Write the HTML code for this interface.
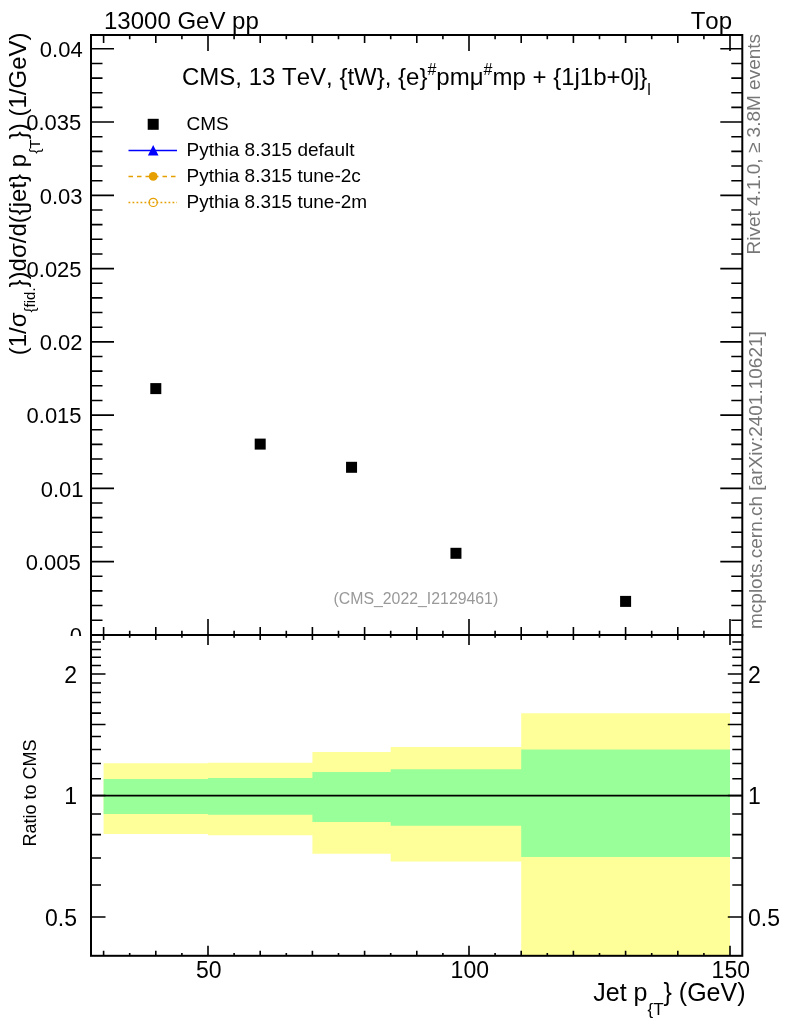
<!DOCTYPE html>
<html><head><meta charset="utf-8"><style>
html,body{margin:0;padding:0;background:#fff;}
svg{display:block;font-family:"Liberation Sans",sans-serif;font-kerning:none;font-feature-settings:"kern" 0,"liga" 0;will-change:transform;}
</style></head><body>
<svg width="786" height="1024" viewBox="0 0 786 1024">
<rect width="786" height="1024" fill="#fff"/>
<rect x="150.30" y="383.10" width="11" height="11" fill="#000"/>
<rect x="254.70" y="438.60" width="11" height="11" fill="#000"/>
<rect x="346.05" y="461.80" width="11" height="11" fill="#000"/>
<rect x="450.45" y="547.80" width="11" height="11" fill="#000"/>
<rect x="620.10" y="595.90" width="11" height="11" fill="#000"/>
<path d="M91.0,634.86h23M742.3,634.86h-22M91.0,620.21h11.5M742.3,620.21h-11M91.0,605.56h11.5M742.3,605.56h-11M91.0,590.91h11.5M742.3,590.91h-11M91.0,576.26h11.5M742.3,576.26h-11M91.0,561.61h23M742.3,561.61h-22M91.0,546.95h11.5M742.3,546.95h-11M91.0,532.30h11.5M742.3,532.30h-11M91.0,517.65h11.5M742.3,517.65h-11M91.0,503.00h11.5M742.3,503.00h-11M91.0,488.35h23M742.3,488.35h-22M91.0,473.70h11.5M742.3,473.70h-11M91.0,459.05h11.5M742.3,459.05h-11M91.0,444.40h11.5M742.3,444.40h-11M91.0,429.75h11.5M742.3,429.75h-11M91.0,415.10h23M742.3,415.10h-22M91.0,400.44h11.5M742.3,400.44h-11M91.0,385.79h11.5M742.3,385.79h-11M91.0,371.14h11.5M742.3,371.14h-11M91.0,356.49h11.5M742.3,356.49h-11M91.0,341.84h23M742.3,341.84h-22M91.0,327.19h11.5M742.3,327.19h-11M91.0,312.54h11.5M742.3,312.54h-11M91.0,297.89h11.5M742.3,297.89h-11M91.0,283.24h11.5M742.3,283.24h-11M91.0,268.58h23M742.3,268.58h-22M91.0,253.93h11.5M742.3,253.93h-11M91.0,239.28h11.5M742.3,239.28h-11M91.0,224.63h11.5M742.3,224.63h-11M91.0,209.98h11.5M742.3,209.98h-11M91.0,195.33h23M742.3,195.33h-22M91.0,180.68h11.5M742.3,180.68h-11M91.0,166.03h11.5M742.3,166.03h-11M91.0,151.38h11.5M742.3,151.38h-11M91.0,136.73h11.5M742.3,136.73h-11M91.0,122.07h23M742.3,122.07h-22M91.0,107.42h11.5M742.3,107.42h-11M91.0,92.77h11.5M742.3,92.77h-11M91.0,78.12h11.5M742.3,78.12h-11M91.0,63.47h11.5M742.3,63.47h-11M91.0,48.82h23M742.3,48.82h-22M103.60,35.0v8M103.60,635.0v-8M129.70,35.0v4.2M129.70,635.0v-4.2M155.80,35.0v8M155.80,635.0v-8M181.90,35.0v4.2M181.90,635.0v-4.2M208.00,35.0v16M208.00,635.0v-16M234.10,35.0v4.2M234.10,635.0v-4.2M260.20,35.0v8M260.20,635.0v-8M286.30,35.0v4.2M286.30,635.0v-4.2M312.40,35.0v8M312.40,635.0v-8M338.50,35.0v4.2M338.50,635.0v-4.2M364.60,35.0v8M364.60,635.0v-8M390.70,35.0v4.2M390.70,635.0v-4.2M416.80,35.0v8M416.80,635.0v-8M442.90,35.0v4.2M442.90,635.0v-4.2M469.00,35.0v16M469.00,635.0v-16M495.10,35.0v4.2M495.10,635.0v-4.2M521.20,35.0v8M521.20,635.0v-8M547.30,35.0v4.2M547.30,635.0v-4.2M573.40,35.0v8M573.40,635.0v-8M599.50,35.0v4.2M599.50,635.0v-4.2M625.60,35.0v8M625.60,635.0v-8M651.70,35.0v4.2M651.70,635.0v-4.2M677.80,35.0v8M677.80,635.0v-8M703.90,35.0v4.2M703.90,635.0v-4.2M730.00,35.0v16M730.00,635.0v-16" stroke="#000" stroke-width="1.6" fill="none"/>
<text x="82.7" y="57.12" text-anchor="end" font-size="22">0.04</text>
<text x="81.3" y="130.37" text-anchor="end" font-size="22">0.035</text>
<text x="82.5" y="203.63" text-anchor="end" font-size="22">0.03</text>
<text x="81.6" y="276.88" text-anchor="end" font-size="22">0.025</text>
<text x="82.5" y="350.14" text-anchor="end" font-size="22">0.02</text>
<text x="81.6" y="423.40" text-anchor="end" font-size="22">0.015</text>
<text x="83.6" y="496.65" text-anchor="end" font-size="22">0.01</text>
<text x="80.8" y="569.90" text-anchor="end" font-size="22">0.005</text>
<text x="82.1" y="643.16" text-anchor="end" font-size="22">0</text>
<text x="104" y="29" font-size="24">13000 GeV pp</text>
<text x="732" y="29" font-size="24" text-anchor="end">Top</text>
<text x="182" y="85" font-size="24">CMS, 13 TeV, {tW}, {e}<tspan dy="-10" font-size="16">#</tspan><tspan dy="10">pmμ</tspan><tspan dy="-10" font-size="16">#</tspan><tspan dy="10">mp + {1j1b+0j}</tspan><tspan dy="10" font-size="16">l</tspan></text>
<rect x="147.7" y="118.8" width="11" height="11" fill="#000"/>
<path d="M128.5,150.5H177" stroke="#0000ff" stroke-width="1.3"/>
<path d="M153.2,145 L158.5,155.6 L147.9,155.6Z" fill="#0000ff"/>
<path d="M128.5,176.5H177" stroke="#e69f00" stroke-width="1.6" stroke-dasharray="4.5,4"/>
<circle cx="153.2" cy="176.4" r="4.4" fill="#e69f00"/>
<path d="M128.5,202.4H177" stroke="#e69f00" stroke-width="1.5" stroke-dasharray="1.8,2.2"/>
<circle cx="153.2" cy="202.4" r="4.1" fill="none" stroke="#e69f00" stroke-width="1.2"/>
<text x="186.5" y="130.4" font-size="19">CMS</text>
<text x="186.5" y="156.4" font-size="19">Pythia 8.315 default</text>
<text x="186.5" y="182.4" font-size="19">Pythia 8.315 tune-2c</text>
<text x="186.5" y="208.4" font-size="19">Pythia 8.315 tune-2m</text>
<text x="333.5" y="603.8" font-size="15.85" fill="#999">(CMS_2022_I2129461)</text>
<text transform="translate(26.4,32.5) rotate(-90)" text-anchor="end" font-size="24">(1/σ<tspan dy="8.5" font-size="15">{fid.</tspan><tspan dy="-8.5">})dσ/d({jet} p</tspan><tspan dy="13.7" font-size="15.5">{T</tspan><tspan dy="-13.7">}) (1/GeV)</tspan></text>
<text transform="translate(760,254.5) rotate(-90)" font-size="19" fill="#777">Rivet 4.1.0, ≥ 3.8M events</text>
<text transform="translate(762,629) rotate(-90)" font-size="19" fill="#777">mcplots.cern.ch [arXiv:2401.10621]</text>
<rect x="91.0" y="35.0" width="651.3" height="600.0" fill="none" stroke="#000" stroke-width="2"/>
<rect x="0" y="636" width="786" height="388" fill="#fff"/>
<path d="M103.60,763.20 L208.00,763.20 L208.00,762.80 L312.40,762.80 L312.40,752.10 L390.70,752.10 L390.70,747.10 L521.20,747.10 L521.20,713.20 L730.00,713.20 L730.00,956.00 L521.20,956.00 L521.20,861.60 L390.70,861.60 L390.70,853.70 L312.40,853.70 L312.40,835.30 L208.00,835.30 L208.00,833.90 L103.60,833.90Z" fill="#ffff99"/>
<path d="M103.60,779.00 L208.00,779.00 L208.00,778.10 L312.40,778.10 L312.40,772.00 L390.70,772.00 L390.70,769.20 L521.20,769.20 L521.20,749.50 L730.00,749.50 L730.00,856.90 L521.20,856.90 L521.20,825.70 L390.70,825.70 L390.70,822.10 L312.40,822.10 L312.40,814.70 L208.00,814.70 L208.00,814.00 L103.60,814.00Z" fill="#99ff99"/>
<path d="M91.0,795.6H742.3" stroke="#000" stroke-width="1.6"/>
<path d="M91.0,917.00h14.5M742.3,917.00h-14.5M91.0,885.04h10M742.3,885.04h-10M91.0,858.02h10M742.3,858.02h-10M91.0,834.61h10M742.3,834.61h-10M91.0,813.97h10M742.3,813.97h-10M91.0,795.50h14.5M742.3,795.50h-14.5M91.0,778.79h10M742.3,778.79h-10M91.0,763.54h10M742.3,763.54h-10M91.0,749.51h10M742.3,749.51h-10M91.0,736.52h10M742.3,736.52h-10M91.0,724.43h14.5M742.3,724.43h-14.5M91.0,713.12h10M742.3,713.12h-10M91.0,702.49h10M742.3,702.49h-10M91.0,692.47h10M742.3,692.47h-10M91.0,683.00h10M742.3,683.00h-10M91.0,674.00h14.5M742.3,674.00h-14.5M91.0,665.45h10M742.3,665.45h-10M91.0,657.30h10M742.3,657.30h-10M91.0,649.51h10M742.3,649.51h-10M91.0,642.05h10M742.3,642.05h-10M103.60,635.0v5M103.60,955.8v-5M129.70,635.0v2.8M129.70,955.8v-2.8M155.80,635.0v5M155.80,955.8v-5M181.90,635.0v2.8M181.90,955.8v-2.8M208.00,635.0v10M208.00,955.8v-10M234.10,635.0v2.8M234.10,955.8v-2.8M260.20,635.0v5M260.20,955.8v-5M286.30,635.0v2.8M286.30,955.8v-2.8M312.40,635.0v5M312.40,955.8v-5M338.50,635.0v2.8M338.50,955.8v-2.8M364.60,635.0v5M364.60,955.8v-5M390.70,635.0v2.8M390.70,955.8v-2.8M416.80,635.0v5M416.80,955.8v-5M442.90,635.0v2.8M442.90,955.8v-2.8M469.00,635.0v10M469.00,955.8v-10M495.10,635.0v2.8M495.10,955.8v-2.8M521.20,635.0v5M521.20,955.8v-5M547.30,635.0v2.8M547.30,955.8v-2.8M573.40,635.0v5M573.40,955.8v-5M599.50,635.0v2.8M599.50,955.8v-2.8M625.60,635.0v5M625.60,955.8v-5M651.70,635.0v2.8M651.70,955.8v-2.8M677.80,635.0v5M677.80,955.8v-5M703.90,635.0v2.8M703.90,955.8v-2.8M730.00,635.0v10M730.00,955.8v-10" stroke="#000" stroke-width="1.6" fill="none"/>
<text x="77" y="682.60" text-anchor="end" font-size="23">2</text>
<text x="748" y="682.60" font-size="23">2</text>
<text x="77" y="804.10" text-anchor="end" font-size="23">1</text>
<text x="748" y="804.10" font-size="23">1</text>
<text x="77" y="925.60" text-anchor="end" font-size="23">0.5</text>
<text x="748" y="925.60" font-size="23">0.5</text>
<text x="208.80" y="978" text-anchor="middle" font-size="23">50</text>
<text x="469.80" y="978" text-anchor="middle" font-size="23">100</text>
<text x="730.80" y="978" text-anchor="middle" font-size="23">150</text>
<text transform="translate(36.2,793) rotate(-90)" text-anchor="middle" font-size="18">Ratio to CMS</text>
<text x="745.5" y="1001.2" text-anchor="end" font-size="25">Jet p<tspan dy="13.7" font-size="17">{T</tspan><tspan dy="-13.7">} (GeV)</tspan></text>
<rect x="91.0" y="635.0" width="651.3" height="320.8" fill="none" stroke="#000" stroke-width="2"/>
</svg>
</body></html>
